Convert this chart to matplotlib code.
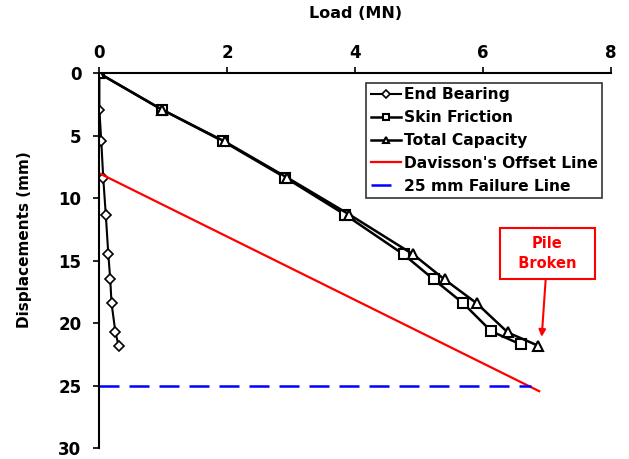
import matplotlib
matplotlib.use("Agg")
import matplotlib.pyplot as plt

# Load (MN) vs displacement (mm)
eb_load = [0.0, 0.0, 0.03, 0.06, 0.10, 0.14, 0.17, 0.19, 0.25, 0.30]
eb_disp = [0.0, 2.9, 5.45, 8.35, 11.3, 14.5, 16.5, 18.4, 20.7, 21.8]

sf_load = [0.0, 0.98, 1.94, 2.91, 3.84, 4.76, 5.23, 5.69, 6.13, 6.59]
sf_disp = [0.0, 2.9, 5.45, 8.35, 11.3, 14.5, 16.5, 18.4, 20.65, 21.7]

tc_load = [0.0, 0.98, 1.96, 2.94, 3.91, 4.91, 5.40, 5.90, 6.39, 6.86]
tc_disp = [0.0, 2.9, 5.45, 8.35, 11.3, 14.5, 16.5, 18.4, 20.75, 21.8]

davisson_load = [0.0, 6.88]
davisson_disp = [8.0, 25.45]

failure_load = [0.0, 6.75]
failure_disp = [25.0, 25.0]

x_ticks = [0, 2, 4, 6, 8]
y_ticks = [0, 5, 10, 15, 20, 25, 30]

plt.rcParams['font.family'] = ['DejaVu Sans']
plt.rcParams['font.weight'] = 'bold'

fig = plt.figure(figsize=(6.29, 4.59), dpi=100)
ax = fig.add_axes([0.158, 0.024, 0.813, 0.816])

ax.plot(eb_load, eb_disp, color='black', lw=1.5, marker='D', ms=5.5,
        mfc='white', mec='black', mew=1.2, label='End Bearing')
ax.plot(sf_load, sf_disp, color='black', lw=1.8, marker='s', ms=6.5,
        mfc='white', mec='black', mew=1.5, label='Skin Friction')
ax.plot(tc_load, tc_disp, color='black', lw=1.8, marker='^', ms=7,
        mfc='white', mec='black', mew=1.5, label='Total Capacity')
ax.plot(davisson_load, davisson_disp, color='red', lw=1.6,
        label="Davisson's Offset Line")
ax.plot(failure_load, failure_disp, color='blue', lw=1.8, ls=(0, (8, 4)),
        label='25 mm Failure Line')

ax.set_xlim(0, 8)
ax.set_ylim(30, 0)
ax.set_xticks(x_ticks)
ax.set_yticks(y_ticks)
ax.xaxis.set_ticks_position('top')
ax.xaxis.set_label_position('top')
ax.spines['right'].set_visible(False)
ax.spines['bottom'].set_visible(False)
ax.spines['left'].set_linewidth(1.5)
ax.spines['top'].set_linewidth(1.5)
ax.tick_params(direction='out', length=4, width=1.2, labelsize=12)
ax.tick_params(axis='x', pad=4)
ax.tick_params(axis='y', pad=9)
for lab in ax.get_xticklabels() + ax.get_yticklabels():
    lab.set_fontweight('bold')

ax.set_xlabel('Load (MN)', fontsize=11.5, fontweight='bold', labelpad=19)
ax.set_ylabel('Displacements (mm)', fontsize=11, fontweight='bold')
ax.yaxis.set_label_coords(-0.132, 0.555)

leg = ax.legend(loc='upper left', bbox_to_anchor=(0.522, 0.975),
                frameon=True, fancybox=False, fontsize=11.2, handlelength=1.9,
                handletextpad=0.2, borderpad=0.3, labelspacing=0.5,
                borderaxespad=0, markerscale=0.7)
leg.get_frame().set_edgecolor('black')
leg.get_frame().set_linewidth(1.2)
for t in leg.get_texts():
    t.set_fontweight('bold')

ax.annotate('Pile\n  Broken  ', xy=(6.92, 21.1), xytext=(7.01, 14.4),
            ha='center', va='center', fontsize=10.5, fontweight='bold',
            color='red', linespacing=1.45,
            bbox=dict(boxstyle='square,pad=0.55', fc='white', ec='red', lw=1.5),
            arrowprops=dict(arrowstyle='-|>', color='red', lw=1.5,
                            mutation_scale=10, shrinkA=0, shrinkB=0))

fig.savefig('out.png', dpi=100)
